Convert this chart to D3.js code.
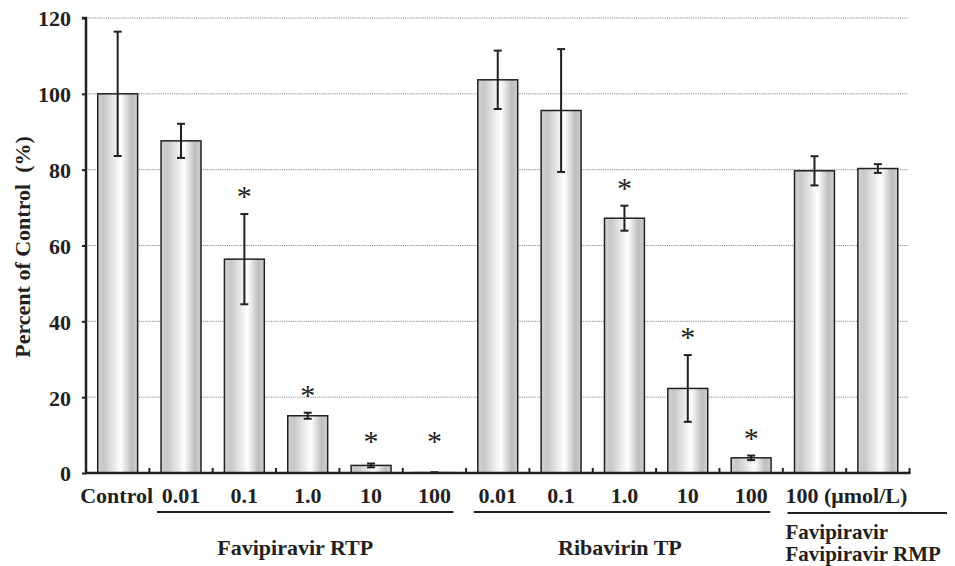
<!DOCTYPE html>
<html><head><meta charset="utf-8">
<script src="https://cdn.jsdelivr.net/npm/d3@7"></script>
<style>
html,body{margin:0;padding:0;background:#fff;}
svg text{font-family:"Liberation Serif","Times New Roman",serif;font-weight:bold;fill:#231f20;}
</style></head>
<body>
<svg id="chart" width="955" height="566"></svg>
<script>
// ---- data ----
const categories = ["Control","0.01","0.1","1.0","10","100","0.01","0.1","1.0","10","100","Favipiravir 100","Favipiravir RMP 100"];
const tickLabels = ["Control","0.01","0.1","1.0","10","100","0.01","0.1","1.0","10","100"];
const pairLabel = "100 (\u03bcmol/L)";
const values = [100, 87.6, 56.4, 15.1, 2.0, 0.1, 103.7, 95.6, 67.2, 22.3, 4.0, 79.7, 80.3];
const errors = [16.4, 4.5, 11.9, 0.8, 0.5, 0.1, 7.7, 16.2, 3.3, 8.8, 0.6, 3.85, 1.15];
const significant = [0,0,1,1,1,1,0,0,1,1,1,0,0];
const yTicks = [0, 20, 40, 60, 80, 100, 120];
const groupNames = ["Favipiravir RTP", "Ribavirin TP"];
const groupStart = [1, 6];
const groupEnd = [5, 10];
const lastGroupLines = ["Favipiravir", "Favipiravir RMP"];

// ---- layout ----
const svg = d3.select("#chart");
const x0 = 86, x1 = 909.5, yTop = 18, yBase = 473;
const x = d3.scaleBand().domain(d3.range(categories.length)).range([x0, x1]).paddingInner(0.37).paddingOuter(0.185);
const y = d3.scaleLinear().domain([0, 120]).range([yBase, yTop]);
const cx = i => x(i) + x.bandwidth() / 2;
const groupLabelShift = [-10, -2];

// gradient
const defs = svg.append("defs");
const g = defs.append("linearGradient").attr("id", "barGrad").attr("x1", "0").attr("x2", "1").attr("y1", "0").attr("y2", "0");
[[0, "#d2d3d4"], [0.15, "#c6c7c8"], [0.58, "#ffffff"], [0.85, "#bcbdbf"], [1, "#cfd0d1"]].forEach(s =>
  g.append("stop").attr("offset", s[0]).attr("stop-color", s[1]));

// gridlines
svg.append("g").selectAll("line").data(yTicks.filter(d => d > 0)).join("line")
  .attr("x1", x0).attr("x2", 908).attr("y1", d => y(d)).attr("y2", d => y(d))
  .attr("stroke", "#8a8a8a").attr("stroke-width", 1).attr("stroke-dasharray", "1.2,1");

// bars
svg.append("g").selectAll("rect").data(values).join("rect")
  .attr("x", (d, i) => x(i)).attr("width", x.bandwidth())
  .attr("y", d => y(d)).attr("height", d => yBase - y(d))
  .attr("fill", "url(#barGrad)").attr("stroke", "#231f20").attr("stroke-width", 1.5);

// error bars
const eb = svg.append("g").attr("stroke", "#231f20").attr("stroke-width", 2);
values.forEach((v, i) => {
  const e = errors[i];
  if (e <= 0) return;
  const c = cx(i), t = y(v + e), b = y(Math.max(0, v - e));
  eb.append("line").attr("x1", c).attr("x2", c).attr("y1", t).attr("y2", b);
  eb.append("line").attr("x1", c - 4).attr("x2", c + 4).attr("y1", t).attr("y2", t);
  eb.append("line").attr("x1", c - 4).attr("x2", c + 4).attr("y1", b).attr("y2", b);
});

// asterisks
const astSize = 30;
svg.append("g").selectAll("text").data(values.map((v, i) => ({v, i})).filter(d => significant[d.i])).join("text")
  .attr("x", d => cx(d.i))
  .attr("y", d => Math.min(y(d.v + errors[d.i]) - 22, y(9.5)) + astSize * 0.47)
  .attr("text-anchor", "middle").attr("font-size", astSize).style("font-weight", "normal")
  .text("*");

// y axis
const yAxis = d3.axisLeft(y).tickValues(yTicks).tickSize(4).tickFormat(d3.format("d"));
const ya = svg.append("g").attr("transform", `translate(${x0},0)`).call(yAxis);
ya.select(".domain").attr("stroke", "#231f20").attr("stroke-width", 2.5).attr("d", `M-4,${yTop}H0V${yBase}`);
ya.selectAll(".tick line").attr("stroke", "#231f20").attr("stroke-width", 2);
ya.selectAll(".tick text").attr("x", -15).attr("dy", "0.36em").attr("font-size", 22)
  .style("font-family", '"Liberation Serif",serif').style("font-weight", "bold").attr("fill", "#231f20");

// x axis baseline with upward ticks at band boundaries
const xa = svg.append("g").attr("stroke", "#231f20");
xa.append("line").attr("x1", x0 - 1).attr("x2", x1 + 1).attr("y1", yBase).attr("y2", yBase).attr("stroke-width", 2.5);
const bounds = d3.range(1, categories.length + 1).map(i => i < categories.length ? x(i) - x.step() * x.paddingInner() / 2 : x1);
xa.selectAll(".bt").data(bounds).join("line").attr("class", "bt")
  .attr("x1", d => d).attr("x2", d => d).attr("y1", yBase).attr("y2", yBase - 5).attr("stroke-width", 2);

// x tick labels
svg.append("g").selectAll("text").data(tickLabels).join("text")
  .attr("x", (d, i) => cx(i) - (i === 0 ? 1 : 0)).attr("y", 503)
  .attr("text-anchor", "middle").attr("font-size", 22).text(d => d);
svg.append("text").attr("x", cx(11) - 29).attr("y", 503).attr("font-size", 22).text(pairLabel);

// group underlines and labels
groupNames.forEach((name, k) => {
  const a = cx(groupStart[k]) - 24, b = cx(groupEnd[k]) + 19;
  svg.append("line").attr("x1", a).attr("x2", b).attr("y1", 512).attr("y2", 512).attr("stroke", "#231f20").attr("stroke-width", 2);
  svg.append("text").attr("x", (a + b) / 2 + groupLabelShift[k]).attr("y", 555).attr("text-anchor", "middle").attr("font-size", 22).text(name);
});
svg.append("line").attr("x1", cx(11) - 27).attr("x2", 947).attr("y1", 513).attr("y2", 513).attr("stroke", "#231f20").attr("stroke-width", 2);
lastGroupLines.forEach((t, k) => {
  svg.append("text").attr("x", cx(11) - 29).attr("y", 539 + k * 22).attr("font-size", 21).text(t);
});

// y axis title
svg.append("text").attr("transform", "translate(30,247) rotate(-90)")
  .attr("text-anchor", "middle").attr("font-size", 22).style("white-space", "pre")
  .text("Percent of Control  (%)");
</script>
</body></html>
